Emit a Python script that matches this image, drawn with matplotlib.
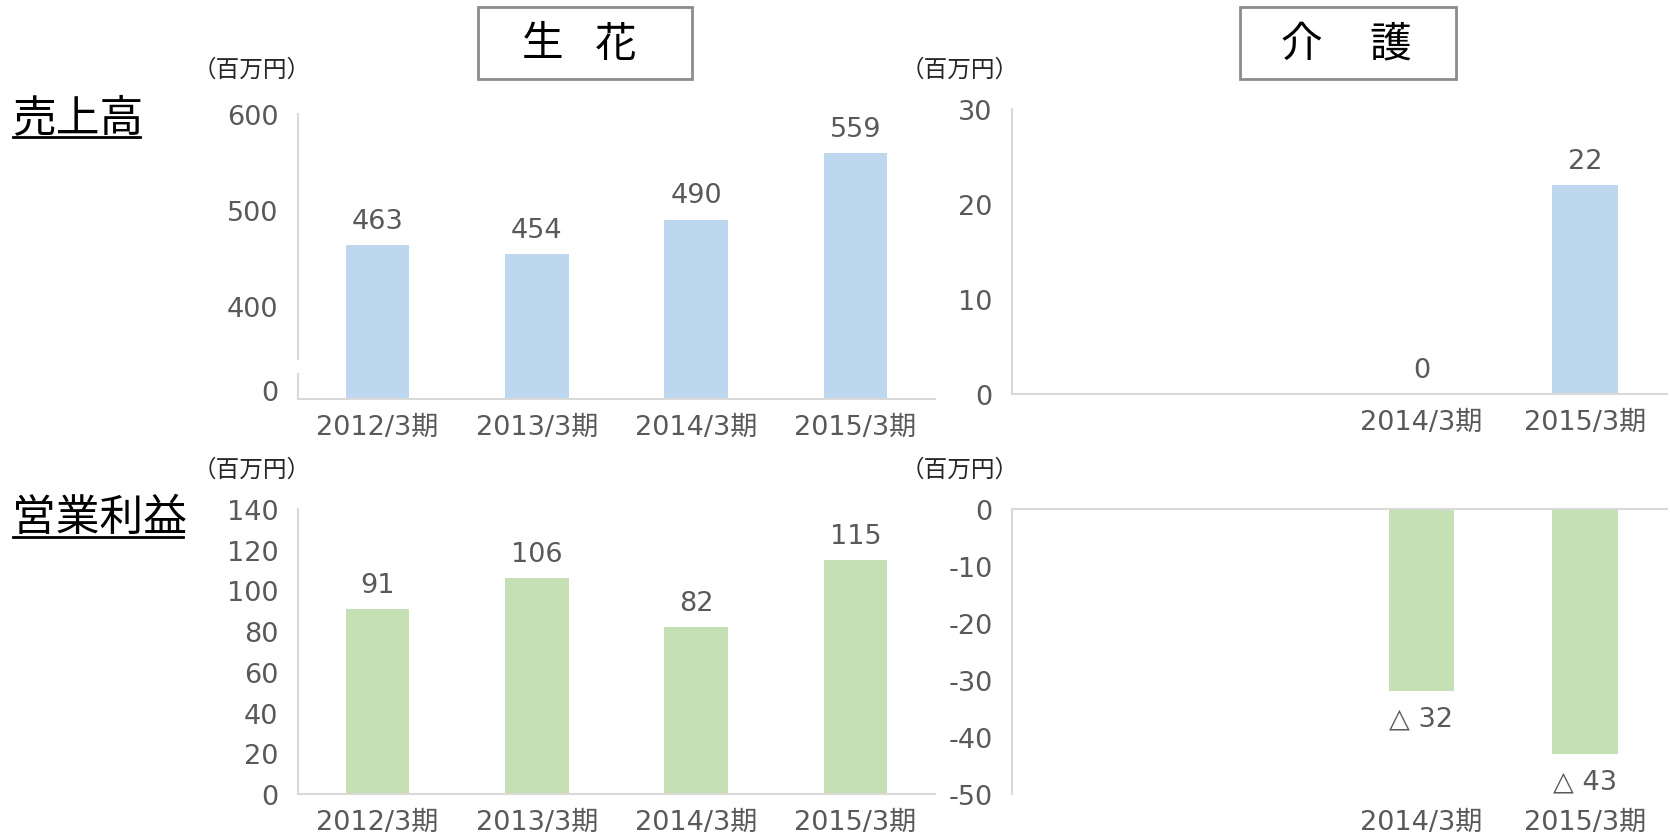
import matplotlib
matplotlib.use("Agg")
import matplotlib.pyplot as plt
from matplotlib.patches import Rectangle
from matplotlib.lines import Line2D
import numpy as np

plt.rcParams["font.family"] = ["DejaVu Sans", "Noto Sans CJK JP"]
plt.rcParams["axes.unicode_minus"] = False
CJK = ["Noto Sans CJK JP", "DejaVu Sans"]

periods = ["2012/3期", "2013/3期", "2014/3期", "2015/3期"]
flower_sales = [463, 454, 490, 559]
flower_profit = [91, 106, 82, 115]

care_periods = ["", "", "2014/3期", "2015/3期"]
care_sales = [np.nan, np.nan, 0, 22]
care_profit = [np.nan, np.nan, -32, -43]

BLUE = "#BDD7EE"
GREEN = "#C5E0B4"
GRAY = "#595959"
SPINE = "#D9D9D9"
FS = 19.5

W, H = 1670, 837
fig = plt.figure(figsize=(W / 100, H / 100), dpi=100)


def px_axes(x0, x1, y_top, y_bot):
    return fig.add_axes([x0 / W, 1 - y_bot / H, (x1 - x0) / W, (y_bot - y_top) / H])


def style(ax, labels):
    x = np.arange(len(labels))
    ax.set_xlim(-0.5, len(labels) - 0.5)
    ax.set_xticks(x)
    ax.set_xticklabels(labels, fontsize=FS, color=GRAY)
    ax.tick_params(axis="both", length=0, labelsize=FS, labelcolor=GRAY)
    ax.tick_params(axis="x", pad=11)
    ax.tick_params(axis="y", pad=14)
    for s in ["top", "right"]:
        ax.spines[s].set_visible(False)
    for s in ["left", "bottom"]:
        ax.spines[s].set_color(SPINE)
        ax.spines[s].set_linewidth(1.5)
    return x


def label_bars(ax, x, vals, fmt, offset):
    for xi, v in zip(x, vals):
        if np.isnan(v):
            continue
        ax.annotate(fmt(v), (xi, v), xytext=(0, offset), textcoords="offset points",
                    ha="center", va="bottom" if offset > 0 else "top",
                    fontsize=FS, color=GRAY)


# 生花 売上高 (broken axis)
ax1 = px_axes(298, 935, 115, 400)
x = style(ax1, periods)
ax1.bar(x, flower_sales, width=0.4, color=BLUE, zorder=2)
ax1.set_ylim(303, 600)
ax1.set_yticks([312, 400, 500, 600])
ax1.set_yticklabels(["0", "400", "500", "600"])
ax1.plot([0, 0], [333, 340], transform=ax1.get_yaxis_transform(), color="white",
         lw=4, clip_on=False, zorder=5)
label_bars(ax1, x, flower_sales, lambda v: f"{v:.0f}", 8)

# 介護 売上高
ax2 = px_axes(1012, 1667, 110, 395)
x = style(ax2, care_periods)
ax2.bar(x, care_sales, width=0.4, color=BLUE, zorder=2)
ax2.set_ylim(0, 30)
ax2.set_yticks([0, 10, 20, 30])
label_bars(ax2, x, care_sales, lambda v: f"{v:.0f}", 8)

# 生花 営業利益
ax3 = px_axes(298, 935, 510, 795)
x = style(ax3, periods)
ax3.bar(x, flower_profit, width=0.4, color=GREEN, zorder=2)
ax3.set_ylim(0, 140)
ax3.set_yticks(range(0, 141, 20))
label_bars(ax3, x, flower_profit, lambda v: f"{v:.0f}", 8)

# 介護 営業利益
ax4 = px_axes(1012, 1667, 510, 795)
x = style(ax4, care_periods)
ax4.spines["bottom"].set_visible(False)
ax4.spines["top"].set_visible(True)
ax4.spines["top"].set_color(SPINE)
ax4.spines["top"].set_linewidth(1.5)
ax4.bar(x, care_profit, width=0.4, color=GREEN, zorder=2)
ax4.set_ylim(-50, 0)
ax4.set_yticks(range(-50, 1, 10))
label_bars(ax4, x, care_profit, lambda v: f"△ {abs(v):.0f}", -10)

# unit labels
for ux, uy in [(193, 70), (901, 70), (193, 470), (901, 470)]:
    fig.text(ux / W, 1 - uy / H, "（百万円）", fontsize=17, color="#262626",
             ha="left", va="center", family=CJK)

# title boxes
for (bx0, bx1), chars in [((478, 692), [("生", 543), ("花", 616)]),
                          ((1240, 1456), [("介", 1301), ("護", 1390)])]:
    fig.patches.append(Rectangle((bx0 / W, 1 - 80 / H), (bx1 - bx0) / W, 72 / H,
                                 transform=fig.transFigure, facecolor="white",
                                 edgecolor="#8c8c8c", linewidth=2))
    for ch, cx in chars:
        fig.text(cx / W, 1 - 45 / H, ch, fontsize=30, ha="center", va="center",
                 family=CJK)

# row labels with underline
for text, ty, ux1, uy in [("売上高", 118, 140, 138), ("営業利益", 518, 183, 538)]:
    fig.text(12 / W, 1 - ty / H, text, fontsize=31.5, ha="left", va="center",
             family=CJK)
    fig.lines.append(Line2D([13 / W, ux1 / W], [1 - uy / H, 1 - uy / H],
                            transform=fig.transFigure, color="black", lw=2))

fig.savefig("out.png", dpi=100, facecolor="white")
